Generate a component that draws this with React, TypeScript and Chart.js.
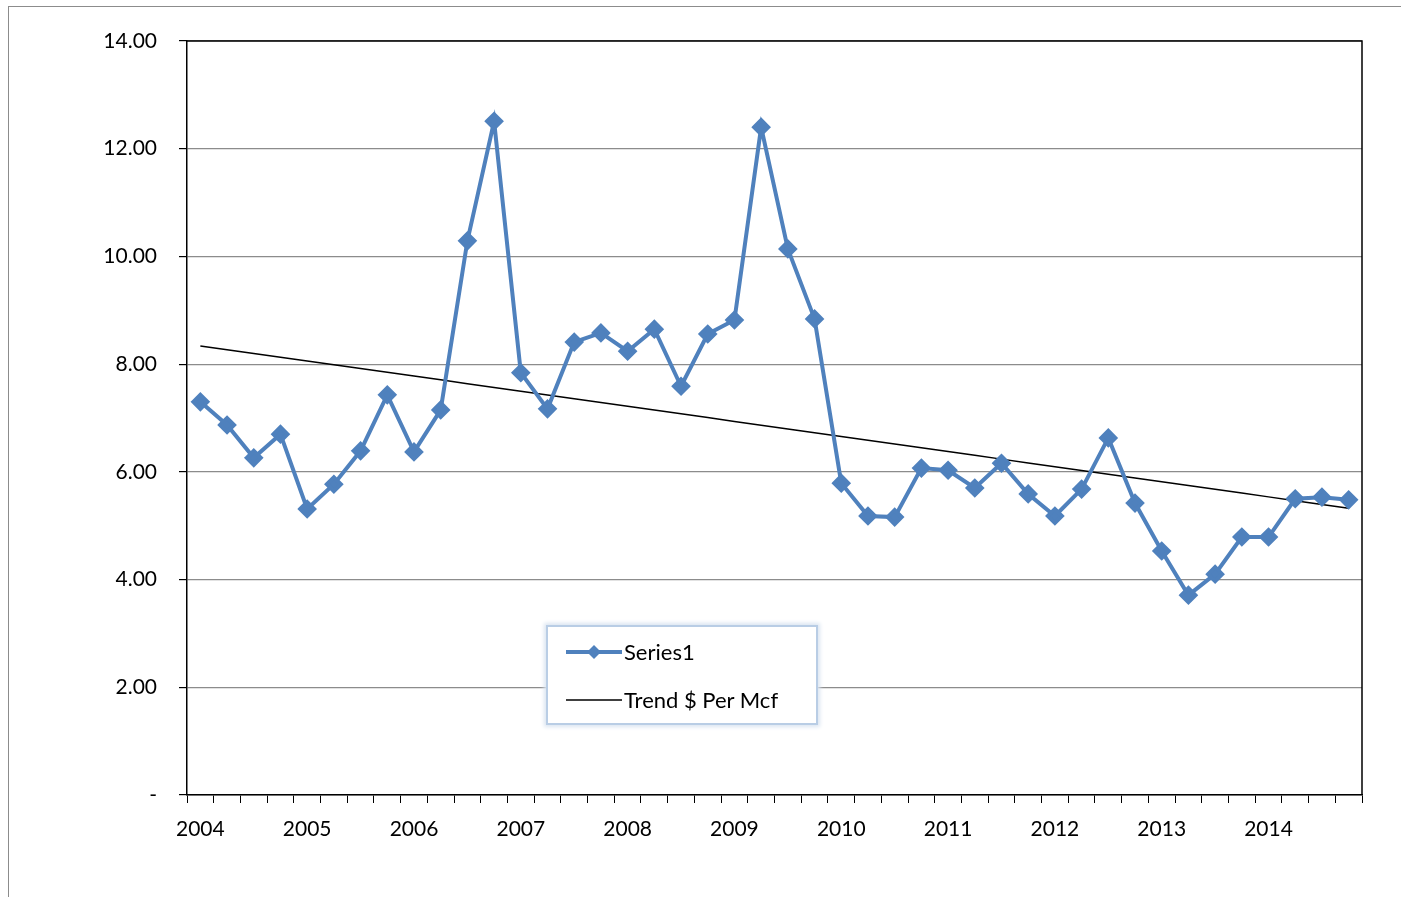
import React, { useRef, useEffect } from 'react';
import { Chart, registerables } from 'chart.js';

Chart.register(...registerables);

const years = ['2004', '2005', '2006', '2007', '2008', '2009', '2010', '2011', '2012', '2013', '2014'];
const labels: string[] = [];
years.forEach((y) => labels.push(y, '', '', ''));

const perMcf = [
  7.30, 6.87, 6.26, 6.70, 5.31, 5.77, 6.39, 7.43, 6.37, 7.15, 10.29, 12.51,
  7.84, 7.17, 8.41, 8.58, 8.24, 8.65, 7.59, 8.56, 8.82, 12.40, 10.14, 8.84,
  5.79, 5.18, 5.16, 6.07, 6.03, 5.70, 6.16, 5.59, 5.18, 5.68, 6.63, 5.42,
  4.53, 3.71, 4.10, 4.79, 4.79, 5.50, 5.53, 5.48,
];

// least squares trend line
const n = perMcf.length;
const mx = (n - 1) / 2;
const my = perMcf.reduce((a, b) => a + b, 0) / n;
let sxy = 0, sxx = 0;
perMcf.forEach((v, i) => { sxy += (i - mx) * (v - my); sxx += (i - mx) * (i - mx); });
const slope = sxy / sxx;
const trend = perMcf.map((_, i) => my + slope * (i - mx));

const FONT = 'Lato, "Open Sans", sans-serif';

const frame = {
  id: 'frame',
  afterDraw(chart: any) {
    const { ctx, chartArea: a } = chart;
    ctx.save();
    ctx.strokeStyle = '#000';
    ctx.lineWidth = 1.5;
    ctx.beginPath();
    ctx.moveTo(a.left, a.top);
    ctx.lineTo(a.right, a.top);
    ctx.lineTo(a.right, a.bottom);
    ctx.stroke();
    ctx.restore();
  },
};

const App: React.FC = () => {
  const canvasRef = useRef<HTMLCanvasElement>(null);

  useEffect(() => {
    document.body.style.margin = '0';
    if (!canvasRef.current) return;
    const chart = new Chart(canvasRef.current, {
      type: 'line',
      data: {
        labels,
        datasets: [
          {
            label: 'Series1',
            data: perMcf,
            borderColor: '#4F81BD',
            backgroundColor: '#4F81BD',
            borderWidth: 4,
            pointStyle: 'rectRot',
            pointRadius: 7,
            tension: 0,
          },
          {
            label: 'Trend $ Per Mcf',
            data: trend,
            borderColor: '#000',
            borderWidth: 1.5,
            pointRadius: 0,
          },
        ],
      },
      options: {
        animation: false,
        responsive: false,
        layout: { padding: { top: 41, right: 39, left: 0, bottom: 0 } },
        plugins: { legend: { display: false }, tooltip: { enabled: false } },
        scales: {
          x: {
            offset: true,
            afterFit: (s: any) => { s.height = 102; },
            grid: { offset: true, drawOnChartArea: false, tickLength: 8, color: '#000' },
            border: { color: '#000', width: 1.5 },
            ticks: { autoSkip: false, maxRotation: 0, padding: 14, color: '#000', font: { family: FONT, size: 21 } },
          },
          y: {
            min: 0,
            max: 14,
            afterFit: (s: any) => { s.width = 187; },
            ticks: {
              stepSize: 2,
              color: '#000',
              padding: 22,
              font: { family: FONT, size: 21 },
              callback: (v: any) => (v === 0 ? '-' : Number(v).toFixed(2)),
            },
            grid: { color: '#8c8c8c', lineWidth: 1.2, tickLength: 8, tickColor: '#000' },
            border: { color: '#000', width: 1.5 },
          },
        },
      },
      plugins: [frame],
    });
    return () => chart.destroy();
  }, []);

  return (
    <div style={{ position: 'relative', width: 1401, height: 897, fontFamily: FONT }}>
      <div style={{ position: 'absolute', left: 8, top: 6, right: 0, bottom: 0, borderLeft: '1.5px solid #8c8c8c', borderTop: '1.5px solid #8c8c8c' }} />
      <canvas ref={canvasRef} width={1401} height={897} style={{ position: 'absolute', left: 0, top: 0 }} />
      <div style={{ position: 'absolute', left: 546, top: 625, width: 268, height: 96, border: '2px solid #b9cde5', boxShadow: '0 0 4px 2px #dbe5f1', background: '#fff', fontSize: 22, color: '#000' }}>
        <div style={{ position: 'absolute', left: 18, top: 11, display: 'flex', alignItems: 'center' }}>
          <svg width={56} height={20}>
            <line x1={0} y1={10} x2={56} y2={10} stroke="#4F81BD" strokeWidth={4} />
            <polygon points="28,3 35,10 28,17 21,10" fill="#4F81BD" />
          </svg>
          <span style={{ marginLeft: 2 }}>Series1</span>
        </div>
        <div style={{ position: 'absolute', left: 18, top: 59, display: 'flex', alignItems: 'center' }}>
          <svg width={56} height={20}>
            <line x1={0} y1={10} x2={56} y2={10} stroke="#000" strokeWidth={1.5} />
          </svg>
          <span style={{ marginLeft: 2 }}>Trend $ Per Mcf</span>
        </div>
      </div>
    </div>
  );
};

export default App;
